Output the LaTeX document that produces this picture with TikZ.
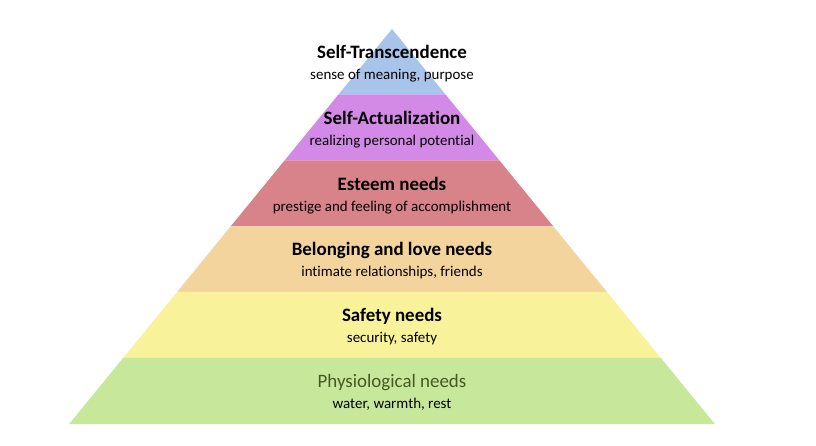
\documentclass[tikz,border=0pt]{standalone}
\usepackage{fontspec}
\setmainfont{Carlito}[Ligatures={NoCommon,NoRare}]
\definecolor{cblue}{HTML}{A9C4EB}
\definecolor{cpurple}{HTML}{D38AE6}
\definecolor{cred}{HTML}{D8828A}
\definecolor{corange}{HTML}{F3D49C}
\definecolor{cyellow}{HTML}{F8F29A}
\definecolor{cgreen}{HTML}{C7E79B}
\definecolor{tgreen}{HTML}{465A20}
\begin{document}
\begin{tikzpicture}[x=1bp,y=-1bp,
  ttl/.style={font=\bfseries\fontsize{19}{21}\selectfont, inner sep=0pt, anchor=base},
  sub/.style={font=\fontsize{15}{17}\selectfont, inner sep=0pt, anchor=base}]
\useasboundingbox (0,0) rectangle (816,446);
\def\ax{392}\def\ay{29}\def\k{0.8173}
% layer helper: top y, bottom y, colour
\newcommand\layer[3]{%
  \pgfmathsetmacro\wt{\k*(#1-\ay)}%
  \pgfmathsetmacro\wb{\k*(#2-\ay)}%
  \fill[#3] (\ax-\wt,#1) -- (\ax+\wt,#1) -- (\ax+\wb,#2) -- (\ax-\wb,#2) -- cycle;}
\layer{29}{94.5}{cblue}
\layer{94.5}{160.5}{cpurple}
\layer{160.5}{226.5}{cred}
\layer{226.5}{292}{corange}
\layer{292}{358}{cyellow}
\layer{358}{424}{cgreen}
\node[ttl] (t1) at (392,58.5) {Self-Transcendence};
\node[sub] (s1) at (392,79.5) {sense of meaning, purpose};
\node[ttl] (t2) at (392,124.5) {Self-Actualization};
\node[sub] (s2) at (392,145.5) {realizing personal potential};
\node[ttl] (t3) at (392,190.5) {Esteem needs};
\node[sub] (s3) at (392,211.5) {prestige and feeling of accomplishment};
\node[ttl] (t4) at (392,255.5) {Belonging and love needs};
\node[sub] (s4) at (392,276.5) {intimate relationships, friends};
\node[ttl] (t5) at (392,321.5) {Safety needs};
\node[sub] (s5) at (392,342.5) {security, safety};
\node[ttl, font=\fontsize{19}{21}\selectfont, text=tgreen] (t6) at (392,387.5) {Physiological needs};
\node[sub] (s6) at (392,408.5) {water, warmth, rest};
\end{tikzpicture}
\end{document}
